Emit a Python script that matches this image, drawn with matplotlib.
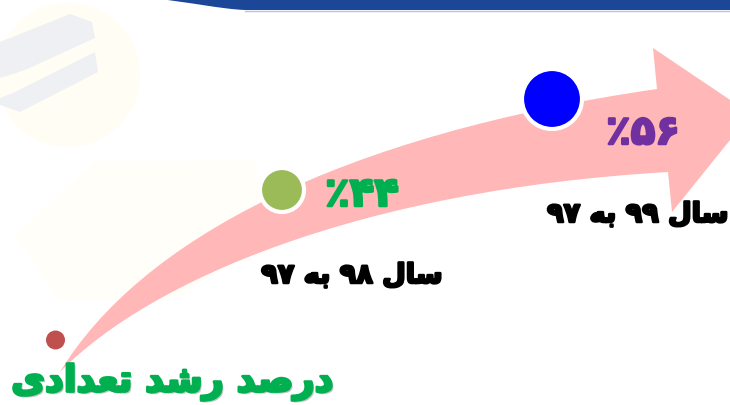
import matplotlib.pyplot as plt
import matplotlib.patheffects as pe
from matplotlib.patches import Circle, PathPatch, Polygon
from matplotlib.path import Path

# chart content
title = 'درصد رشد تعدادی'
period_labels = ['سال ۹۸ به ۹۷', 'سال ۹۹ به ۹۷']
growth_pct = ['۴۴', '۵۶']
pct_colors = ['#00b050', '#7030a0']
marker_colors = ['#9bbb59', '#0000ff']

# Arabic presentation forms: isolated, final, initial, medial
FORMS = {
    'ا': ('\uFE8D', '\uFE8E', None, None),
    'ب': ('\uFE8F', '\uFE90', '\uFE91', '\uFE92'),
    'ت': ('\uFE95', '\uFE96', '\uFE97', '\uFE98'),
    'د': ('\uFEA9', '\uFEAA', None, None),
    'ر': ('\uFEAD', '\uFEAE', None, None),
    'س': ('\uFEB1', '\uFEB2', '\uFEB3', '\uFEB4'),
    'ش': ('\uFEB5', '\uFEB6', '\uFEB7', '\uFEB8'),
    'ص': ('\uFEB9', '\uFEBA', '\uFEBB', '\uFEBC'),
    'ع': ('\uFEC9', '\uFECA', '\uFECB', '\uFECC'),
    'ل': ('\uFEDD', '\uFEDE', '\uFEDF', '\uFEE0'),
    'ه': ('\uFEE9', '\uFEEA', '\uFEEB', '\uFEEC'),
    'ی': ('\uFBFC', '\uFBFD', '\uFBFE', '\uFBFF'),
}


def _joins_left(ch):
    return ch in FORMS and FORMS[ch][2] is not None


def _shape_word(word):
    out = []
    for i, ch in enumerate(word):
        if ch not in FORMS:
            out.append(ch)
            continue
        prev_joins = i > 0 and _joins_left(word[i - 1])
        next_joins = i + 1 < len(word) and word[i + 1] in FORMS and _joins_left(ch)
        iso, fin, ini, med = FORMS[ch]
        if prev_joins and next_joins:
            out.append(med)
        elif prev_joins:
            out.append(fin)
        elif next_joins:
            out.append(ini)
        else:
            out.append(iso)
    return ''.join(out)


def rtl(text):
    """Shape and reorder a Persian string for left-to-right drawing."""
    words = []
    for w in text.split(' '):
        if any(ch in FORMS for ch in w):
            words.append(_shape_word(w)[::-1])
        else:
            words.append(w)
    return ' '.join(words[::-1])


def heavy(color, width=1.6):
    return [pe.withStroke(linewidth=width, foreground=color)]


fig = plt.figure(figsize=(7.3, 4.05), dpi=100)
ax = fig.add_axes([0, 0, 1, 1])
ax.set_xlim(0, 730)
ax.set_ylim(405, 0)
ax.axis('off')

# faint watermark in the background
ax.add_patch(Circle((68, 75), 72, fc='#fffdf4', ec='none', zorder=0))
ax.add_patch(Polygon([(0, 42), (70, 14), (92, 22), (95, 38), (25, 70), (0, 78)],
                     fc='#eff0f4', ec='none', zorder=0))
ax.add_patch(Polygon([(15, 92), (95, 52), (98, 72), (20, 112), (0, 105), (0, 98)],
                     fc='#eff0f4', ec='none', zorder=0))
ax.add_patch(Polygon([(15, 235), (95, 162), (255, 160), (260, 240), (175, 300), (60, 300)],
                     fc='#fffef8', ec='none', zorder=0))

# header band
band = Path([(150, -2), (190, 2), (220, 9), (245, 10), (732, 10), (732, -2), (150, -2)],
            [Path.MOVETO, Path.CURVE4, Path.CURVE4, Path.CURVE4,
             Path.LINETO, Path.LINETO, Path.CLOSEPOLY])
ax.add_patch(PathPatch(band, fc='#1c4799', ec='none', zorder=1))
ax.plot([245, 730], [11, 11], color='#b3c4e3', lw=1, zorder=1)

# curved growth arrow
tip = (60, 372)
verts = [tip, (140, 240), (340, 135), (657, 89),
         (653, 48), (751, 114), (672, 212), (668, 172),
         (360, 190), (150, 280), tip, tip]
codes = [Path.MOVETO, Path.CURVE4, Path.CURVE4, Path.CURVE4,
         Path.LINETO, Path.LINETO, Path.LINETO, Path.LINETO,
         Path.CURVE4, Path.CURVE4, Path.CURVE4, Path.CLOSEPOLY]
ax.add_patch(PathPatch(Path(verts, codes), fc='#ffb7b7', ec='none', zorder=2))

# markers on the arrow
ax.add_patch(Circle((55.5, 340), 9.5, fc='#c0504d', ec='none', zorder=3))
marker_pos = [(282, 190), (552, 99)]
marker_r = [22, 30]
for (x, y), r, c in zip(marker_pos, marker_r, marker_colors):
    ax.add_patch(Circle((x, y), r, fc=c, ec='white', lw=3, zorder=3))

font = ['DejaVu Sans']
pct_pos = [(362, 195), (643, 133)]
for (x, y), v, c in zip(pct_pos, growth_pct, pct_colors):
    ax.text(x, y, '٪' + v, color=c, fontsize=29, fontweight='bold', family=font,
            ha='center', va='center', zorder=4, path_effects=heavy(c, 1.8))

label_pos = [(443, 276), (729, 215)]
for (x, y), lab in zip(label_pos, period_labels):
    ax.text(x, y, rtl(lab), color='black', fontsize=19.5, fontweight='bold', family=font,
            ha='right', va='center', zorder=4, path_effects=heavy('black', 1.8))

ax.text(333, 382, rtl(title), color='#00b050', fontsize=26.5, fontweight='bold', family=font,
        ha='right', va='center', zorder=4,
        path_effects=[pe.withSimplePatchShadow(offset=(1.5, -1.5), shadow_rgbFace='#555555', alpha=0.35),
                      pe.withStroke(linewidth=2.0, foreground='#00b050')])

fig.savefig('out.png', dpi=100)
